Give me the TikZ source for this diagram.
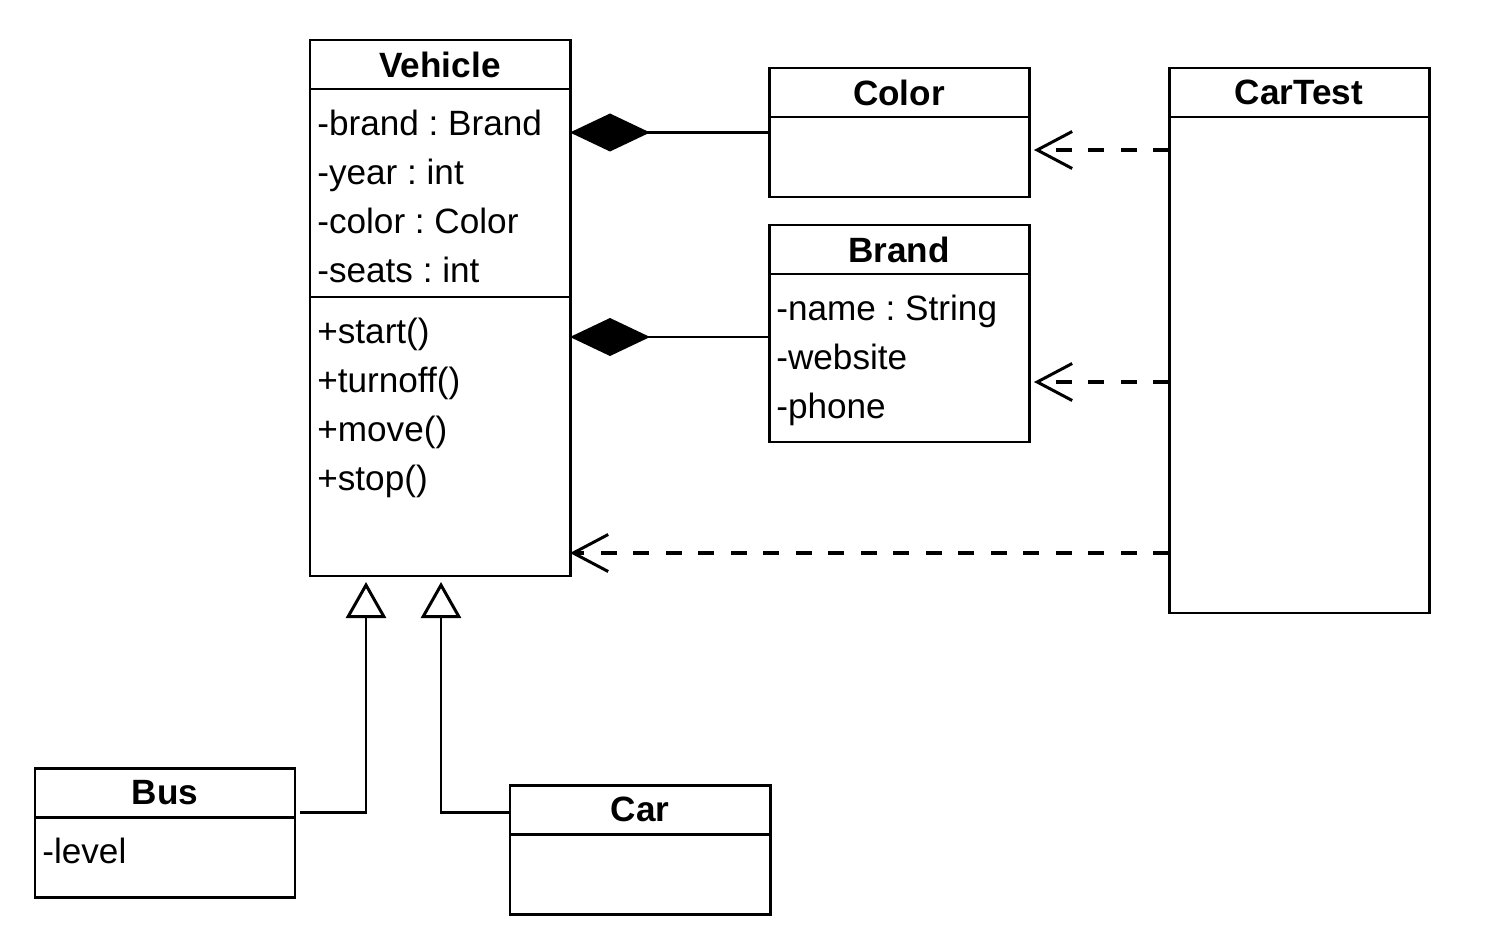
\documentclass[tikz,border=0pt]{standalone}
\usepackage{fontspec}
\setmainfont{Liberation Sans}
\usetikzlibrary{arrows.meta}
\newcommand{\classfont}{\fontsize{20}{24}\selectfont}
\tikzset{
  classbox/.style={draw, line width=1.7pt, rectangle, anchor=north west, inner sep=0pt, outer sep=0pt, minimum width=5.2cm},
  classhead/.style={draw, line width=1.7pt, rectangle, anchor=north, inner sep=0pt, outer sep=0pt, minimum width=5.2cm, minimum height=0.98cm, font=\classfont\bfseries},
  field/.style={anchor=base west, inner sep=0pt, font=\classfont},
  composition/.style={line width=1.7pt, {Diamond[length=1.6cm, width=0.76cm]}-},
  dependency/.style={line width=1.8pt, dash pattern=on 0.32cm off 0.33cm, -{Straight Barb[length=0.7cm, width=0.74cm, line width=1.7pt]}},
  generalization/.style={line width=1.7pt, -{Triangle[open, length=0.72cm, width=0.8cm, line width=1.7pt]}, shorten >=0.12cm}
}
\frenchspacing
\begin{document}
\begin{tikzpicture}
\useasboundingbox (0,0) rectangle (30.22,-18.68);

% Class boxes
\node[classbox, minimum height=10.72cm] (vehicle) at (6.2,-0.8) {};
\node[classbox, minimum height=2.58cm] (color) at (15.38,-1.36) {};
\node[classbox, minimum height=4.34cm] (brand) at (15.38,-4.5) {};
\node[classbox, minimum height=10.9cm] (cartest) at (23.38,-1.36) {};
\node[classbox, minimum height=2.58cm] (bus) at (0.7,-15.36) {};
\node[classbox, minimum height=2.58cm] (car) at (10.2,-15.7) {};

% Class names
\node[classhead] (vehicle-head) at (vehicle.north) {Vehicle};
\node[classhead] (color-head) at (color.north) {Color};
\node[classhead] (brand-head) at (brand.north) {Brand};
\node[classhead] (cartest-head) at (cartest.north) {CarTest};
\node[classhead] (bus-head) at (bus.north) {Bus};
\node[classhead] (car-head) at (car.north) {Car};

% Separator between attributes and operations
\coordinate (sep) at (0,-5.94);
\draw[line width=1.7pt] (vehicle.west |- sep) -- (vehicle.east |- sep);

% Attributes and operations
\foreach \txt [count=\i] in {-brand : Brand, -year : int, -color : Color, -seats : int}
  \node[field] (vehicle-attr-\i) at (6.34,{-2.71-0.98*(\i-1)}) {\txt};
\foreach \txt [count=\i] in {+start(), +turnoff(), +move(), +stop()}
  \node[field] (vehicle-op-\i) at (6.34,{-6.87-0.98*(\i-1)}) {\txt};
\foreach \txt [count=\i] in {-name : String, -website, -phone}
  \node[field] (brand-attr-\i) at (15.52,{-6.41-0.98*(\i-1)}) {\txt};
\node[field] (bus-attr-1) at (0.84,-17.27) {-level};

% Compositions
\coordinate (brand-link) at ([yshift=-0.07cm]brand.west);
\draw[composition] (color.west -| vehicle.east) -- (color.west);
\draw[composition] (brand-link -| vehicle.east) -- (brand-link);

% Dependencies from CarTest
\coordinate (dep-color) at (0,-3.0);
\coordinate (dep-brand) at (0,-7.64);
\coordinate (dep-vehicle) at (0,-11.06);
\draw[dependency] (cartest.west |- dep-color) -- ([xshift=0.1cm]color.east |- dep-color);
\draw[dependency] (cartest.west |- dep-brand) -- ([xshift=0.1cm]brand.east |- dep-brand);
\draw[dependency] (cartest.west |- dep-vehicle) -- (vehicle.east |- dep-vehicle);

% Generalizations
\coordinate (bus-link) at (6.0,-16.24);
\coordinate (car-link) at (10.2,-16.24);
\draw[generalization] (bus-link) -| (7.32,-11.52);
\draw[generalization] (car-link) -| (8.82,-11.52);
\end{tikzpicture}
\end{document}
